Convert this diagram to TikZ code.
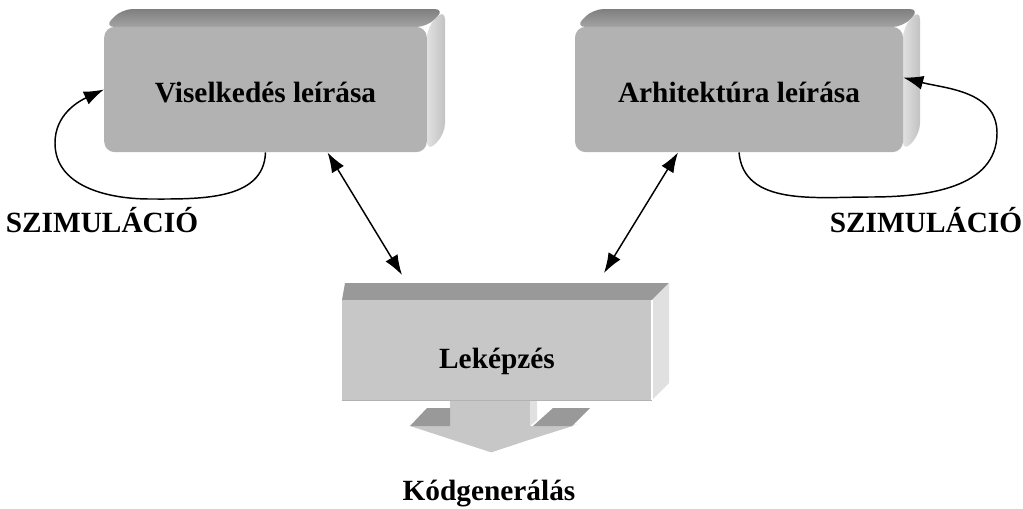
\documentclass[tikz,border=0pt]{standalone}
\usepackage{fontspec}
\setmainfont{Liberation Serif}
\usetikzlibrary{arrows.meta, positioning}

\tikzset{
    boxtext/.style={font=\fontsize{22}{26}\selectfont\bfseries, inner sep=0pt},
    frontbox/.style={boxtext, fill=black!30, rounded corners=8pt,
        minimum height=94pt, text height=19pt, text depth=0pt},
    conn/.style={line width=1.1pt, -{Latex[length=15pt, width=10.5pt]}},
    twoway/.style={line width=1.1pt, {Latex[length=15pt, width=10.5pt]}-{Latex[length=15pt, width=10.5pt]}},
}

\begin{document}
\begin{tikzpicture}[x=0.75pt, y=-0.75pt]
    \useasboundingbox (0,0) rectangle (1023,508);

    % Viselkedes box
    \shade[top color=black!50, bottom color=black!36, rounded corners=8pt]
        (104,27) -- (122,9) -- (445,9) -- (427,27) -- cycle;
    \shade[left color=black!12, right color=black!24, rounded corners=8pt]
        (427,27) -- (445,9) -- (445,134) -- (427,152) -- cycle;
    \node[frontbox, minimum width=242pt] (vis) at (265.5,89.5) {Viselkedés leírása};

    % Arhitektura box
    \shade[top color=black!50, bottom color=black!36, rounded corners=8pt]
        (575,27) -- (593,9) -- (920,9) -- (903,27) -- cycle;
    \shade[left color=black!12, right color=black!24, rounded corners=8pt]
        (903,27) -- (920,9) -- (920,134) -- (903,152) -- cycle;
    \node[frontbox, minimum width=246pt] (arch) at (739,89.5) {Arhitektúra leírása};

    % Lekepzes box
    \fill[black!40] (342,300) -- (345,283) -- (669,283) -- (652,300) -- cycle;
    \fill[black!12] (652,300) -- (669,283) -- (669,383) -- (652,400) -- cycle;
    \node[boxtext, fill=black!22, minimum width=232.5pt, minimum height=75pt,
        text height=27pt, text depth=0pt] (lek) at (497,350) {Leképzés};
    \draw[white, line width=1.2pt] (lek.north east) -- (lek.south east);
    \draw[black!30, line width=1pt] (lek.south west) -- (lek.south east);

    % block arrow
    \fill[black!22] (410,426) -- (450,426) -- (450,401) -- (530,401) -- (530,426)
        -- (572,426) -- (490,452) -- cycle;
    \fill[black!40] (410,426) -- (427,408) -- (450,408) -- (450,426) -- cycle;
    \fill[black!12] (530,401) -- (537,401) -- (537,420) -- (530,426) -- cycle;
    \fill[black!40] (533,426) -- (553,408) -- (590,408) -- (572,426) -- cycle;
    \fill[black!28] (572,426) -- (577,424) -- (492,452) -- (490,452) -- cycle;

    % labels
    \node[boxtext, anchor=base] (kod) at (489,500) {Kódgenerálás};
    \node[boxtext, anchor=base] (szimL) at (102,232) {SZIMULÁCIÓ};
    \node[boxtext, anchor=base] (szimR) at (926,232) {SZIMULÁCIÓ};

    \coordinate (lekL) at (402,275);
    \coordinate (lekR) at (604,273);

    % connectors
    \draw[conn] (vis.south) to[out=-92, in=0] (150,199) to[out=180, in=-90] (55,143)
        to[out=90, in=205] (vis.west);
    \draw[conn] (arch.south) to[out=-85, in=180] (870,197) to[out=0, in=-90] (997,133)
        to[out=90, in=-15] ([yshift=9pt]arch.east);
    \draw[twoway] ([xshift=46.5pt]vis.south) -- (lekL);
    \draw[twoway] ([xshift=-45.75pt]arch.south) -- (lekR);
\end{tikzpicture}
\end{document}
